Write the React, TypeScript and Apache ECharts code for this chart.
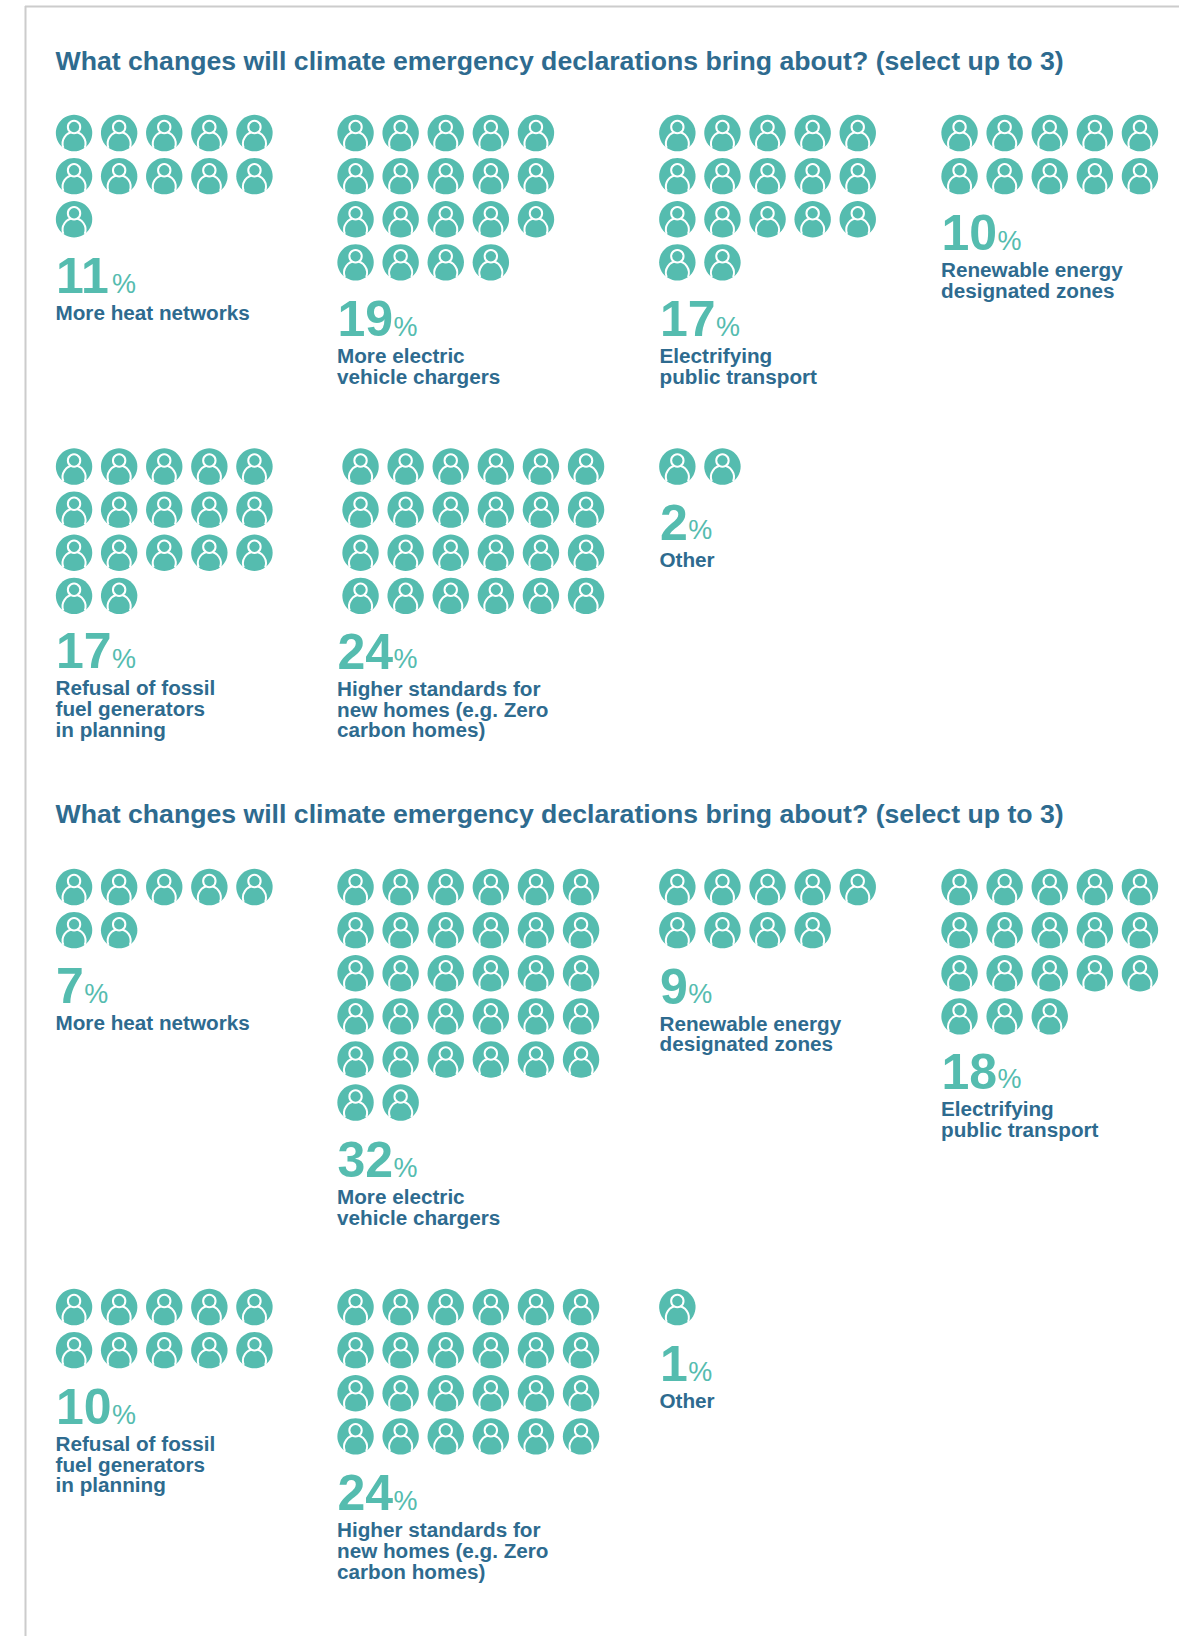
import React, { useEffect, useRef } from "react";
import * as echarts from "echarts";

const chartTitle = "What changes will climate emergency declarations bring about? (select up to 3)";

const firstCategories = [
  "More heat networks",
  "More electric\nvehicle chargers",
  "Electrifying\npublic transport",
  "Renewable energy\ndesignated zones",
  "Refusal of fossil\nfuel generators\nin planning",
  "Higher standards for\nnew homes (e.g. Zero\ncarbon homes)",
  "Other",
];
const firstValues = [11, 19, 17, 10, 17, 24, 2];
const firstColumns = [5, 5, 5, 5, 5, 6, 5];

const secondCategories = [
  "More heat networks",
  "More electric\nvehicle chargers",
  "Renewable energy\ndesignated zones",
  "Electrifying\npublic transport",
  "Refusal of fossil\nfuel generators\nin planning",
  "Higher standards for\nnew homes (e.g. Zero\ncarbon homes)",
  "Other",
];
const secondValues = [7, 32, 9, 18, 10, 24, 1];
const secondColumns = [5, 6, 5, 5, 5, 6, 5];

const TEAL = "#55bcaf";
const BLUE = "#2e6b8f";
const FONT = "'Liberation Sans', Arial, sans-serif";
const W = 1179;
const H = 1636;
const STEP_X = 45.1;
const STEP_Y = 43.1;
const textLefts = [55.5, 337, 659.5, 941];

type Slot = { col: number; rowTop: number; iconShift?: number; textShift?: number };
const firstSlots: Slot[] = [
  { col: 0, rowTop: 111.5 },
  { col: 1, rowTop: 111.5 },
  { col: 2, rowTop: 111.5, iconShift: -0.7 },
  { col: 3, rowTop: 111.5 },
  { col: 0, rowTop: 445, textShift: -1.5 },
  { col: 1, rowTop: 445, iconShift: 5, textShift: -1 },
  { col: 2, rowTop: 445, iconShift: -0.7, textShift: -1 },
];
const secondSlots: Slot[] = [
  { col: 0, rowTop: 865.5, textShift: -1 },
  { col: 1, rowTop: 865.5, textShift: 0.5 },
  { col: 2, rowTop: 865.5, iconShift: -0.7, textShift: -0.5 },
  { col: 3, rowTop: 865.5, textShift: -1.5 },
  { col: 0, rowTop: 1285.5 },
  { col: 1, rowTop: 1285.5 },
  { col: 2, rowTop: 1285.5, iconShift: -0.7 },
];

function renderIcon(_: any, api: any) {
  const [cx, cy] = api.coord([api.value(0), api.value(1)]);
  return {
    type: "group",
    x: cx,
    y: cy,
    children: [
      { type: "circle", shape: { cx: 0, cy: 0, r: 18.2 }, style: { fill: TEAL } },
      {
        type: "arc",
        shape: { cx: 0, cy: 10.5, r: 11.5, startAngle: Math.PI * 0.88, endAngle: Math.PI * 2.12, clockwise: true },
        style: { stroke: "#ffffff", lineWidth: 2, fill: "none" },
      },
      {
        type: "circle",
        shape: { cx: 0, cy: -6, r: 6.2 },
        style: { fill: TEAL, stroke: "#ffffff", lineWidth: 2 },
      },
    ],
  };
}

function App() {
  const ref = useRef<HTMLDivElement>(null);
  useEffect(() => {
    const chart = echarts.init(ref.current!, undefined, { renderer: "svg" });
    const grid: any[] = [];
    const xAxis: any[] = [];
    const yAxis: any[] = [];
    const series: any[] = [];
    const graphic: any[] = [
      { type: "line", shape: { x1: 25, y1: 6.5, x2: W, y2: 6.5 }, style: { stroke: "#cccccc", lineWidth: 2 } },
      { type: "line", shape: { x1: 25.5, y1: 6, x2: 25.5, y2: H }, style: { stroke: "#cccccc", lineWidth: 2 } },
      ...[61, 814].map((y) => ({
        type: "text",
        x: 55.5,
        y,
        style: {
          text: chartTitle,
          fill: BLUE,
          font: `bold 26.65px ${FONT}`,
          verticalAlign: "middle",
        },
      })),
    ];

    const addPanel = (name: string, value: number, cols: number, slot: Slot) => {
      const rows = Math.ceil(value / cols);
      const left = textLefts[slot.col] - 4 + (slot.iconShift ?? 0);
      const i = grid.length;
      grid.push({ left, top: slot.rowTop, width: cols * STEP_X, height: rows * STEP_Y });
      xAxis.push({ type: "value", gridIndex: i, min: 0, max: cols, show: false });
      yAxis.push({ type: "value", gridIndex: i, min: 0, max: rows, inverse: true, show: false });
      const points = Array.from({ length: value }, (_, k) => [(k % cols) + 0.5, Math.floor(k / cols) + 0.5]);
      series.push({
        type: "custom",
        name,
        xAxisIndex: i,
        yAxisIndex: i,
        renderItem: renderIcon,
        data: points,
        silent: true,
      });
      const x = textLefts[slot.col];
      const baseline = slot.rowTop + rows * STEP_Y + 54 + (slot.textShift ?? 0);
      const digits = String(value).length;
      graphic.push({
        type: "text",
        x: x + 0.5,
        y: baseline + 6.5,
        style: { text: String(value), fill: TEAL, font: `bold 50px ${FONT}`, verticalAlign: "bottom" },
      });
      graphic.push({
        type: "text",
        x: x + digits * 27.8 + 1,
        y: baseline + 2.5,
        style: { text: "%", fill: TEAL, font: `27px ${FONT}`, verticalAlign: "bottom" },
      });
      name.split("\n").forEach((line, k) => {
        graphic.push({
          type: "text",
          x,
          y: baseline + 18 + k * 20.6,
          style: { text: line, fill: BLUE, font: `bold 20.7px ${FONT}`, verticalAlign: "middle" },
        });
      });
    };

    firstCategories.forEach((c, i) => addPanel(c, firstValues[i], firstColumns[i], firstSlots[i]));
    secondCategories.forEach((c, i) => addPanel(c, secondValues[i], secondColumns[i], secondSlots[i]));

    chart.setOption({
      animation: false,
      backgroundColor: "#ffffff",
      tooltip: { show: false },
      grid,
      xAxis,
      yAxis,
      series,
      graphic,
    });
    return () => chart.dispose();
  }, []);
  return <div ref={ref} style={{ position: "absolute", left: 0, top: 0, width: W, height: H }} />;
}

export default App;
